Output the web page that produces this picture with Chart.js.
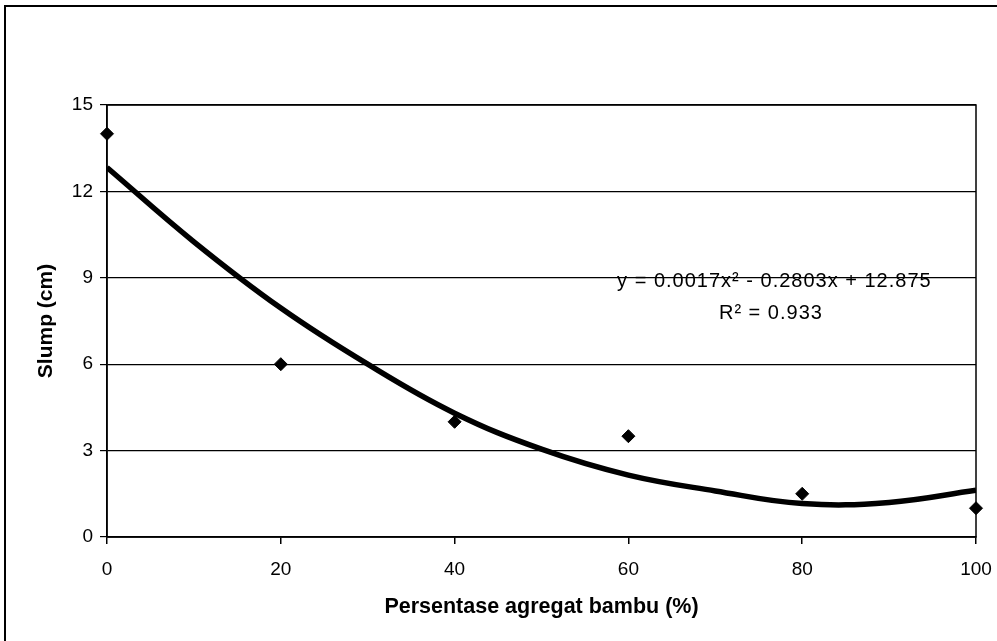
<!DOCTYPE html>
<html>
<head>
<meta charset="utf-8">
<style>
  html, body { margin: 0; padding: 0; background: #fff; }
  #wrap { width: 997px; height: 641px; position: relative; }
</style>
<script src="https://cdn.jsdelivr.net/npm/chart.js@4/dist/chart.umd.min.js"></script>
</head>
<body>
<div id="wrap"><canvas id="slump_chart" width="997" height="641"></canvas></div>
<script>
// measured slump per bamboo aggregate percentage
var persen = [0, 20, 40, 60, 80, 100];
var slump = [14, 6, 4, 3.5, 1.5, 1];

// trendline
var trendX = [0, 10, 20, 30, 40, 50, 60, 70, 80, 90, 100];
var trendY = [12.83, 10.25, 7.95, 6.0, 4.3, 3.05, 2.15, 1.6, 1.16, 1.2, 1.62];

var trendText = ['y = 0.0017x\u00b2 - 0.2803x + 12.875', 'R\u00b2 = 0.933'];

var xTitle = 'Persentase agregat bambu (%)';
var yTitle = 'Slump (cm)';

var FONT = "'Liberation Sans', Arial, sans-serif";

function toPoints(xs, ys)
{
    var pts = [];
    for (var i = 0; i < xs.length; i++) {
        pts.push({x: xs[i], y: ys[i]});
    }
    return pts;
}

// frame around the figure, box round the plot, equation text
var extras = {
    id: 'extras',
    beforeDraw: function(chart) {
        var ctx = chart.ctx;
        ctx.save();
        ctx.fillStyle = '#fff';
        ctx.fillRect(0, 0, chart.width, chart.height);
        ctx.strokeStyle = '#000';
        ctx.lineWidth = 2;
        ctx.beginPath();
        ctx.moveTo(5, chart.height);
        ctx.lineTo(5, 6);
        ctx.lineTo(chart.width, 6);
        ctx.stroke();
        ctx.restore();
    },
    afterDatasetsDraw: function(chart) {
        var ctx = chart.ctx;
        var a = chart.chartArea;
        var sx = chart.scales.x, sy = chart.scales.y;
        ctx.save();
        ctx.strokeStyle = '#000';
        ctx.lineWidth = 1.5;
        ctx.strokeRect(a.left, a.top, a.right - a.left, a.bottom - a.top);

        ctx.fillStyle = '#000';
        ctx.font = '20px ' + FONT;
        ctx.textAlign = 'center';
        ctx.textBaseline = 'middle';
        if ('letterSpacing' in ctx) ctx.letterSpacing = '1px';
        ctx.fillText(trendText[0], sx.getPixelForValue(76.8), sy.getPixelForValue(8.86));
        ctx.fillText(trendText[1], sx.getPixelForValue(76.4), sy.getPixelForValue(7.76));
        ctx.restore();
    }
};

function initChart()
{
    var ctx = document.getElementById('slump_chart').getContext('2d');
    new Chart(ctx, {
        type: 'scatter',
        data: {
            datasets: [
                {
                    type: 'line',
                    label: 'trend',
                    data: toPoints(trendX, trendY),
                    borderColor: '#000',
                    borderWidth: 5.5,
                    pointRadius: 0,
                    tension: 0.4,
                    fill: false
                },
                {
                    label: 'slump',
                    data: toPoints(persen, slump),
                    pointStyle: 'rectRot',
                    pointRadius: 6.5,
                    backgroundColor: '#000',
                    borderColor: '#000',
                    borderWidth: 1,
                    clip: false
                }
            ]
        },
        options: {
            responsive: false,
            animation: false,
            layout: {padding: {left: 34, top: 105, right: 21, bottom: 21}},
            plugins: {
                legend: {display: false},
                tooltip: {enabled: false}
            },
            scales: {
                x: {
                    type: 'linear',
                    min: 0,
                    max: 100,
                    afterFit: function(s) {
                        s.height = 83;
                        s.paddingLeft = 0;
                        s.paddingRight = 0;
                    },
                    ticks: {
                        stepSize: 20,
                        padding: 14,
                        color: '#000',
                        font: {family: FONT, size: 19}
                    },
                    grid: {
                        drawOnChartArea: false,
                        drawTicks: true,
                        tickLength: 7,
                        color: '#000',
                        lineWidth: 1.5
                    },
                    border: {display: true, color: '#000', width: 1.5},
                    title: {
                        display: true,
                        text: xTitle,
                        color: '#000',
                        padding: 0,
                        font: {family: FONT, size: 21.5, weight: 'bold'}
                    }
                },
                y: {
                    min: 0,
                    max: 15,
                    afterFit: function(s) { s.width = 73; },
                    ticks: {
                        stepSize: 3,
                        padding: 7,
                        color: '#000',
                        font: {family: FONT, size: 19}
                    },
                    grid: {
                        color: '#000',
                        lineWidth: 1.2,
                        tickLength: 7
                    },
                    border: {display: true, color: '#000', width: 1.5},
                    title: {
                        display: true,
                        text: yTitle,
                        color: '#000',
                        padding: 0,
                        font: {family: FONT, size: 21, weight: 'bold'}
                    }
                }
            }
        },
        plugins: [extras]
    });
}

initChart();
</script>
</body>
</html>
